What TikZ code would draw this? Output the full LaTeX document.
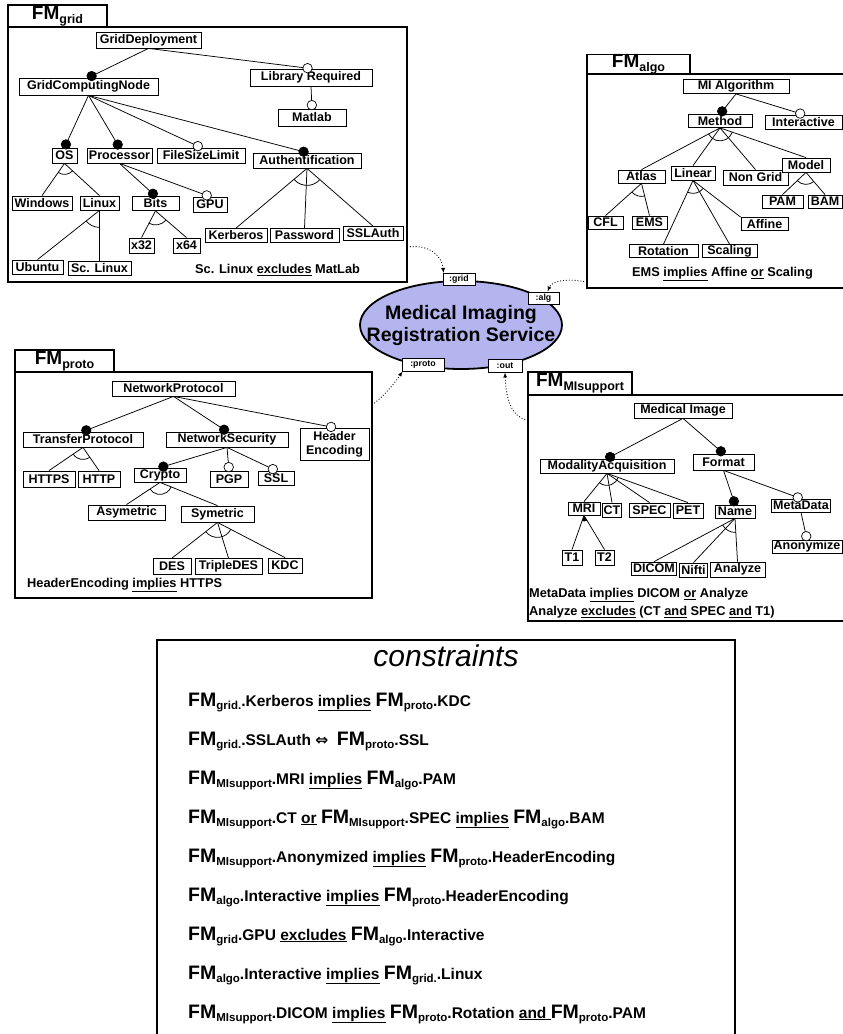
\documentclass[tikz,border=0pt]{standalone}
\usepackage{fontspec}
\setmainfont{Liberation Sans}
\newfontfamily\symfont{DejaVu Sans}
\usetikzlibrary{calc,arrows.meta,shapes.geometric}
\definecolor{ellcol}{RGB}{180,180,238}
\tikzset{
 fbox/.style={draw, fill=white, line width=0.8pt, inner xsep=1.5pt, inner ysep=0pt,
   font=\fontsize{12.5}{14}\selectfont\bfseries, minimum height=14pt},
 conn/.style={line width=0.75pt},
 mandc/.style={circle, draw, fill=black, line width=0.7pt, minimum size=9.5pt, inner sep=0pt},
 optc/.style={circle, draw, fill=white, line width=0.7pt, minimum size=9.5pt, inner sep=0pt},
 panel/.style={draw, line width=1.6pt},
 tabbox/.style={draw, line width=1.6pt, inner sep=0pt, font=\bfseries},
 port/.style={draw, fill=white, line width=0.9pt, inner sep=0pt, font=\fontsize{8.8}{9}\selectfont\bfseries},
 note/.style={font=\fontsize{12.8}{15}\selectfont\bfseries, inner sep=0pt, anchor=west},
 cline/.style={font=\fontsize{15.5}{17}\selectfont\bfseries, inner sep=0pt, anchor=base west},
 link/.style={dotted, line width=0.9pt, -{Latex[length=5pt,width=4pt]}},
}
\newcommand\mand[2]{\draw[conn] (#1.south) -- ($(#2.north)!3.5pt!(#1.south)$) node[mandc]{};}
\newcommand\opt[2]{\draw[conn] (#1.south) -- ($(#2.north)!3.5pt!(#1.south)$) node[optc]{};}
\newcommand\kid[2]{\draw[conn] (#1.south) -- (#2.north);}
\newcommand\altarc[4]{\draw[conn] let \p1=(#1), \p2=(#2), \p3=(#3),
  \n1={atan2(\y2-\y1,\x2-\x1)}, \n2={atan2(\y3-\y1,\x3-\x1)} in
  (\p1) ++(\n1:#4pt) arc[start angle=\n1, end angle=\n2, radius=#4pt];}
\newcommand\orfill[4]{\fill let \p1=(#1), \p2=(#2), \p3=(#3),
  \n1={atan2(\y2-\y1,\x2-\x1)}, \n2={atan2(\y3-\y1,\x3-\x1)} in
  (\p1) -- ++(\n1:#4pt) arc[start angle=\n1, end angle=\n2, radius=#4pt] -- cycle;}
\newcommand\tabFM[1]{{\fontsize{19}{20}\selectfont FM}\raisebox{-4pt}{\fontsize{12.5}{13}\selectfont #1}}
\newcommand\cFM[1]{{\fontsize{19.5}{20}\selectfont FM}\raisebox{-3.5pt}{\fontsize{11.5}{12}\selectfont #1}}
\begin{document}
\begin{tikzpicture}[x=1pt,y=-1pt]
\useasboundingbox (0,0) rectangle (843,1034);
\fill[white] (0,0) rectangle (843,1034);

% ---------- panels ----------
\draw[panel] (8,27) rectangle (407,282);
\node[tabbox, minimum width=99pt, minimum height=22pt] (tabgrid) at (57.5,16) {\tabFM{grid}};
\draw[panel] (587,74) rectangle (850,288);
\node[tabbox, minimum width=103pt, minimum height=19pt] (tabalgo) at (638.5,64.5) {\tabFM{algo}};
\draw[panel] (15,372) rectangle (372,598);
\node[tabbox, minimum width=99pt, minimum height=22pt] (tabproto) at (64.5,361) {\tabFM{proto}};
\draw[panel] (528,395) rectangle (850,621);
\node[tabbox, minimum width=104pt, minimum height=23pt] (tabmi) at (580,383.5) {\tabFM{MIsupport}};
\draw[line width=1.8pt] (157,640) rectangle (735,1045);

% ---------- FM grid ----------
\node[fbox, minimum width=105pt, minimum height=16pt] (gd) at (148.5,40) {GridDeployment};
\node[fbox, minimum width=139pt, minimum height=17pt] (gcn) at (88.5,86.5) {GridComputingNode};
\node[fbox, minimum width=122pt, minimum height=17pt] (lib) at (311,77.5) {Library Required};
\node[fbox, minimum width=68pt, minimum height=17pt] (mat) at (312,117.5) {Matlab};
\node[fbox, minimum width=25pt, minimum height=15pt] (os) at (64.5,155.5) {OS};
\node[fbox, minimum width=65pt, minimum height=15pt] (proc) at (119.5,155.5) {Processor};
\node[fbox, minimum width=88pt, minimum height=15pt] (fsl) at (201,155.5) {FileSizeLimit};
\node[fbox, minimum width=108pt, minimum height=15pt] (auth) at (307,160.5) {Authentification};
\node[fbox, minimum width=60pt] (win) at (42,203) {Windows};
\node[fbox, minimum width=39pt] (lin) at (99.5,203) {Linux};
\node[fbox, minimum width=47pt] (bits) at (155.5,203.5) {Bits};
\node[fbox, minimum width=34pt, minimum height=15pt] (gpu) at (210,204.5) {GPU};
\node[fbox, minimum width=51pt] (ubu) at (37.5,267) {Ubuntu};
\node[fbox, minimum width=63pt] (scl) at (99.5,268) {Sc. Linux};
\node[fbox, minimum width=25pt, minimum height=15pt] (x32) at (141.5,245.5) {x32};
\node[fbox, minimum width=27pt, minimum height=15pt] (x64) at (186.5,245.5) {x64};
\node[fbox, minimum width=62pt] (ker) at (236,235.5) {Kerberos};
\node[fbox, minimum width=69pt] (pw) at (304.5,235.5) {Password};
\node[fbox, minimum width=60pt] (ssla) at (373,233.5) {SSLAuth};
\node[note] (gridnote) at (195,270) {Sc. Linux \underline{excludes} MatLab};

\mand{gd}{gcn} \opt{gd}{lib} \opt{lib}{mat}
\mand{gcn}{os} \mand{gcn}{proc} \opt{gcn}{fsl} \mand{gcn}{auth}
\kid{os}{win} \kid{os}{lin} \altarc{os.south}{win.north}{lin.north}{11}
\kid{lin}{ubu} \kid{lin}{scl} \altarc{lin.south}{ubu.north}{scl.north}{17}
\mand{proc}{bits} \opt{proc}{gpu}
\kid{bits}{x32} \kid{bits}{x64} \altarc{bits.south}{x32.north}{x64.north}{14}
\kid{auth}{ker} \kid{auth}{pw} \kid{auth}{ssla} \altarc{auth.south}{ker.north}{ssla.north}{17}

% ---------- FM algo ----------
\node[fbox, minimum width=106pt] (mia) at (736,86.5) {MI Algorithm};
\node[fbox, minimum width=64pt, minimum height=13pt] (meth) at (720,121) {Method};
\node[fbox, minimum width=77pt] (inter) at (803.5,122) {Interactive};
\node[fbox, minimum width=47pt, minimum height=13pt] (atlas) at (641.5,176.5) {Atlas};
\node[fbox, minimum width=44pt] (linear) at (693,173) {Linear};
\node[fbox, minimum width=65pt, minimum height=15pt] (ngrid) at (755.5,177.5) {Non Grid};
\node[fbox, minimum width=48pt] (model) at (806,165) {Model};
\node[fbox, minimum width=35pt, minimum height=13pt] (cfl) at (605.5,222.5) {CFL};
\node[fbox, minimum width=35pt, minimum height=13pt] (ems) at (649.5,222.5) {EMS};
\node[fbox, minimum width=69pt, minimum height=13pt] (rot) at (663.5,251) {Rotation};
\node[fbox, minimum width=55pt, minimum height=13pt] (scal) at (729.5,251) {Scaling};
\node[fbox, minimum width=47pt, minimum height=13pt] (aff) at (764.5,224) {Affine};
\node[fbox, minimum width=41pt, minimum height=13pt] (pam) at (782.5,201.5) {PAM};
\node[fbox, minimum width=34pt, minimum height=13pt] (bam) at (825,201.5) {BAM};
\node[note] (algonote) at (632,274) {EMS \underline{implies} Affine \underline{or} Scaling};

\mand{mia}{meth} \opt{mia}{inter}
\kid{meth}{atlas} \kid{meth}{linear} \kid{meth}{ngrid} \kid{meth}{model}
\altarc{meth.south}{atlas.north}{model.north}{13}
\kid{atlas}{cfl} \kid{atlas}{ems} \altarc{atlas.south}{cfl.north}{ems.north}{13}
\kid{linear}{rot} \kid{linear}{scal} \draw[conn] (linear.south) -- (aff.north west);
\altarc{linear.south}{rot.north}{aff.north west}{13}
\kid{model}{pam} \kid{model}{bam} \altarc{model.south}{pam.north}{bam.north}{12}

% ---------- FM proto ----------
\node[fbox, minimum width=123pt, minimum height=15pt] (np) at (173.5,388.5) {NetworkProtocol};
\node[fbox, minimum width=120pt, minimum height=15pt] (tp) at (83,439.5) {TransferProtocol};
\node[fbox, minimum width=122pt, minimum height=15pt] (ns) at (227,439.5) {NetworkSecurity};
\node[fbox, minimum width=69pt, minimum height=32pt, align=center] (he) at (334.5,444) {Header\\Encoding};
\node[fbox, minimum width=52pt, minimum height=16pt] (https) at (49,479) {HTTPS};
\node[fbox, minimum width=42pt, minimum height=16pt] (http) at (99,479) {HTTP};
\node[fbox, minimum width=52pt] (crypto) at (160,475) {Crypto};
\node[fbox, minimum width=38pt, minimum height=16pt] (pgp) at (229,479) {PGP};
\node[fbox, minimum width=36pt] (ssl) at (276,478) {SSL};
\node[fbox, minimum width=77pt, minimum height=15pt] (asym) at (126.5,512.5) {Asymetric};
\node[fbox, minimum width=73pt, minimum height=16pt] (sym) at (217.5,514) {Symetric};
\node[fbox, minimum width=38pt, minimum height=16pt] (des) at (172,566.5) {DES};
\node[fbox, minimum width=67pt, minimum height=16pt] (tdes) at (228.5,566.5) {TripleDES};
\node[fbox, minimum width=34pt, minimum height=15pt] (kdc) at (285,565.5) {KDC};
\node[note] (protonote) at (27,585) {HeaderEncoding \underline{implies} HTTPS};

\mand{np}{tp} \mand{np}{ns} \opt{np}{he}
\kid{tp}{https} \kid{tp}{http} \altarc{tp.south}{https.north}{http.north}{12}
\mand{ns}{crypto} \opt{ns}{pgp} \opt{ns}{ssl}
\kid{crypto}{asym} \kid{crypto}{sym} \altarc{crypto.south}{asym.north}{sym.north}{12}
\kid{sym}{des} \kid{sym}{tdes} \kid{sym}{kdc} \altarc{sym.south}{des.north}{kdc.north}{15}

% ---------- FM MIsupport ----------
\node[fbox, minimum width=98pt, minimum height=15pt] (mimg) at (683,410.5) {Medical Image};
\node[fbox, minimum width=134pt] (ma) at (607,466) {ModalityAcquisition};
\node[fbox, minimum width=61pt, minimum height=16pt] (fmt) at (723.5,462) {Format};
\node[fbox, minimum width=32pt, minimum height=13pt] (mri) at (584,508.5) {MRI};
\node[fbox, minimum width=18pt] (ct) at (612,510) {CT};
\node[fbox, minimum width=41pt] (spec) at (649.5,510) {SPEC};
\node[fbox, minimum width=30pt, minimum height=15pt] (pet) at (688,510.5) {PET};
\node[fbox, minimum width=40pt, minimum height=13pt] (name) at (735,511.5) {Name};
\node[fbox, minimum width=58pt, minimum height=13pt] (meta) at (801,505.5) {MetaData};
\node[fbox, minimum width=20pt, minimum height=15pt] (t1) at (572,557.5) {T1};
\node[fbox, minimum width=19pt, minimum height=15pt] (t2) at (604.5,557.5) {T2};
\node[fbox, minimum width=44pt, minimum height=13pt] (dicom) at (654,568.5) {DICOM};
\node[fbox, minimum width=23pt] (nifti) at (693.5,570) {Nifti};
\node[fbox, minimum width=55pt, minimum height=15pt] (analyze) at (737.5,569.5) {Analyze};
\node[fbox, minimum width=70pt, minimum height=13pt] (anon) at (807,546.5) {Anonymize};
\node[note] (minote1) at (529,595) {MetaData \underline{implies} DICOM \underline{or} Analyze};
\node[note] (minote2) at (529,612) {Analyze \underline{excludes} (CT \underline{and} SPEC \underline{and} T1)};

\mand{mimg}{ma} \mand{mimg}{fmt}
\kid{ma}{mri} \kid{ma}{ct} \kid{ma}{spec} \kid{ma}{pet} \altarc{ma.south}{mri.north}{pet.north}{12}
\kid{mri}{t1} \kid{mri}{t2} \orfill{mri.south}{t1.north}{t2.north}{6}
\mand{fmt}{name} \opt{fmt}{meta} \opt{meta}{anon}
\kid{name}{dicom} \kid{name}{nifti} \kid{name}{analyze} \altarc{name.south}{dicom.north}{analyze.north}{14}

% ---------- service ----------
\node[ellipse, draw, fill=ellcol, line width=1.8pt, minimum width=202pt, minimum height=88pt,
  inner sep=0pt] (svc) at (461,325) {};
\node[align=center, inner sep=0pt, font=\bfseries\fontsize{19.5}{22}\selectfont] (svctext) at (svc.center)
  {Medical Imaging\\Registration Service};
\node[port, minimum width=32pt, minimum height=12pt] (pgrid) at (459,279.5) {:grid};
\node[port, minimum width=31pt, minimum height=12pt] (palg) at (543.5,298) {:alg};
\node[port, minimum width=42pt, minimum height=13pt] (pproto) at (423,364.5) {:proto};
\node[port, minimum width=34pt, minimum height=13pt] (pout) at (505,365.5) {:out};

\coordinate (gridout) at (407,247);
\coordinate (algin) at (587,282);
\coordinate (protoout) at (372,405);
\coordinate (miin) at (528,420);
\draw[link] (gridout) .. controls (430,244) and (442,256) .. ($(pgrid.north west)+(1pt,0pt)$);
\draw[link] (algin) .. controls (566,278) and (552,281) .. ($(palg.north)+(4pt,0pt)$);
\draw[link] (protoout) .. controls (384,396) and (394,384) .. ($(pproto.south west)+(1pt,0pt)$);
\draw[link] (miin) .. controls (512,418) and (506,400) .. (pout.south);

% ---------- constraints ----------
\node[font=\fontsize{30}{32}\selectfont\itshape, inner sep=0pt] (ctitle) at (446,656) {constraints};
\node[cline] (c1) at (188,706) {\cFM{grid.}.Kerberos \underline{implies} \cFM{proto}.KDC};
\node[cline] (c2) at (188,745) {\cFM{grid.}.SSLAuth {\symfont ⇔}\ \ \cFM{proto}.SSL};
\node[cline] (c3) at (188,784) {\cFM{MIsupport}.MRI \underline{implies} \cFM{algo}.PAM};
\node[cline] (c4) at (188,823) {\cFM{MIsupport}.CT \underline{or} \cFM{MIsupport}.SPEC \underline{implies} \cFM{algo}.BAM};
\node[cline] (c5) at (188,862) {\cFM{MIsupport}.Anonymized \underline{implies} \cFM{proto}.HeaderEncoding};
\node[cline] (c6) at (188,901) {\cFM{algo}.Interactive \underline{implies} \cFM{proto}.HeaderEncoding};
\node[cline] (c7) at (188,940) {\cFM{grid}.GPU \underline{excludes} \cFM{algo}.Interactive};
\node[cline] (c8) at (188,979) {\cFM{algo}.Interactive \underline{implies} \cFM{grid.}.Linux};
\node[cline] (c9) at (188,1018) {\cFM{MIsupport}.DICOM \underline{implies} \cFM{proto}.Rotation \underline{and\ }\cFM{proto}.PAM};
\end{tikzpicture}
\end{document}
